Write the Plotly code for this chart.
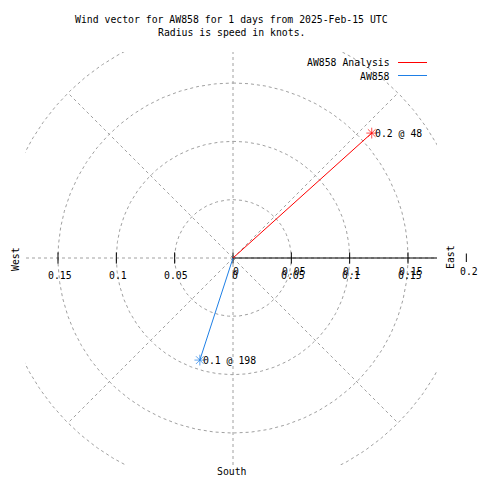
import numpy as np
import plotly.graph_objects as go

# ---- data ----
series_names = ["AW858 Analysis", "AW858"]
series_colors = ["#ff0000", "#1e7fe6"]
speeds = [0.160, 0.092]          # knots
directions = [48, 198]           # degrees clockwise from north
grid_r = [0.05, 0.1, 0.15, 0.2]
spoke_deg = [0, 45, 90, 135, 180, 225, 270, 315]
xtick_vals = [-0.15, -0.1, -0.05, 0, 0.05, 0.1, 0.15]
rtick_vals = [0, 0.05, 0.1, 0.15, 0.2]
title_lines = ["Wind vector for AW858 for 1 days from 2025-Feb-15 UTC",
               "Radius is speed in knots."]

FONT = "DejaVu Sans Mono"
FS = 9.8
GRID = "#a0a0a0"

W = H = 480
def px(x):
    return x / W
def py(y):
    return 1 - y / H

scale = 1166.7
cx, cy = 233, 258
left, right, top, bottom = 25, 437, 52, 465
xmin, xmax = (left - cx) / scale, (right - cx) / scale
ymin, ymax = (cy - bottom) / scale, (cy - top) / scale

def inside(v):
    return xmin <= v <= xmax

fig = go.Figure()

# grid circles and spokes
gx, gy = [], []
th = np.linspace(0, 2 * np.pi, 721)
for r in grid_r:
    gx += list(r * np.sin(th)) + [None]
    gy += list(r * np.cos(th)) + [None]
for d in spoke_deg:
    a = np.radians(d)
    gx += [0, max(grid_r) * np.sin(a), None]
    gy += [0, max(grid_r) * np.cos(a), None]
fig.add_trace(go.Scatter(x=gx, y=gy, mode="lines", hoverinfo="skip",
                         line=dict(color=GRID, width=1, dash="3px,3px")))

# solid axis on the east side
fig.add_trace(go.Scatter(x=[0, max(grid_r)], y=[0, 0], mode="lines",
                         line=dict(color="black", width=1), hoverinfo="skip"))

# tick marks inside the plot area
tick_x = sorted(set(xtick_vals + rtick_vals))
tick_in = [v for v in tick_x if inside(v)]
fig.add_trace(go.Scatter(x=tick_in, y=[0] * len(tick_in), mode="markers",
                         cliponaxis=False, hoverinfo="skip",
                         marker=dict(symbol="line-ns-open", size=8, color="black",
                                     line=dict(color="black", width=1))))

# wind vectors
for name, col, s, d in zip(series_names, series_colors, speeds, directions):
    a = np.radians(d)
    x1, y1 = s * np.sin(a), s * np.cos(a)
    fig.add_trace(go.Scatter(x=[0, x1], y=[0, y1], mode="lines+markers",
                             name=name, cliponaxis=False,
                             line=dict(color=col, width=1),
                             marker=dict(symbol="asterisk-open", size=[0, 9], color=col,
                                         line=dict(color=col, width=1))))

annotations = []
shapes = []
for i, (s, d) in enumerate(zip(speeds, directions)):
    a = np.radians(d)
    annotations.append(dict(x=s * np.sin(a), y=s * np.cos(a), xref="x", yref="y",
                            text=f"{s:.1f} @ {d}", showarrow=False,
                            xanchor="left", yanchor="middle", xshift=1, yshift=0,
                            font=dict(family=FONT, size=FS, color="black")))

# tick labels (x tics and r tics overlap, as in the original)
def tick_label(v, text, xshift, yshift):
    if inside(v):
        return dict(x=v, y=0, xref="x", yref="y", text=text,
                    showarrow=False, xanchor="center", yanchor="middle",
                    xshift=xshift, yshift=yshift,
                    font=dict(family=FONT, size=FS, color="black"))
    # outside the plot area: place in paper coordinates
    return dict(x=px(cx + v * scale + xshift), y=py(cy - yshift), xref="paper", yref="paper",
                text=text, showarrow=False, xanchor="center", yanchor="middle",
                font=dict(family=FONT, size=FS, color="black"))

for v in xtick_vals:
    annotations.append(tick_label(v, f"{v:g}".replace("-", ""), 1.5, -17))
for v in rtick_vals:
    annotations.append(tick_label(v, f"{v:g}", 2.5, -13))
    if not inside(v):
        xx = cx + v * scale
        shapes.append(dict(type="line", xref="paper", yref="paper",
                           x0=px(xx), x1=px(xx), y0=py(cy - 4.5), y1=py(cy + 4),
                           line=dict(color="black", width=1)))

# compass labels
annotations.append(dict(x=px(450), y=py(257), xref="paper", yref="paper", text="East",
                        textangle=-90, showarrow=False, xanchor="center", yanchor="middle",
                        font=dict(family=FONT, size=FS, color="black")))
annotations.append(dict(x=px(15), y=py(259), xref="paper", yref="paper", text="West",
                        textangle=-90, showarrow=False, xanchor="center", yanchor="middle",
                        font=dict(family=FONT, size=FS, color="black")))
annotations.append(dict(x=px(232), y=py(471), xref="paper", yref="paper", text="South",
                        showarrow=False, xanchor="center", yanchor="middle",
                        font=dict(family=FONT, size=FS, color="black")))

# title
for i, t in enumerate(title_lines):
    annotations.append(dict(x=px(231.5), y=py(20 + 13 * i), xref="paper", yref="paper",
                            text=t, showarrow=False, xanchor="center", yanchor="middle",
                            font=dict(family=FONT, size=FS, color="black")))

# legend (text left of the sample line)
for i, (name, col) in enumerate(zip(series_names, series_colors)):
    yy = 62.5 + 13 * i
    annotations.append(dict(x=px(391.5), y=py(yy + 0.5), xref="paper", yref="paper",
                            text=name, showarrow=False, xanchor="right", yanchor="middle",
                            font=dict(family=FONT, size=FS, color="black")))
    shapes.append(dict(type="line", xref="paper", yref="paper",
                       x0=px(398), x1=px(427), y0=py(yy), y1=py(yy),
                       line=dict(color=col, width=1)))

fig.update_layout(
    width=W, height=H,
    margin=dict(l=0, r=0, t=0, b=0),
    paper_bgcolor="white", plot_bgcolor="white",
    showlegend=False,
    hovermode=False,
    xaxis=dict(domain=[px(left), px(right)], range=[xmin, xmax],
               visible=False, showgrid=False, zeroline=False),
    yaxis=dict(domain=[py(bottom), py(top)], range=[ymin, ymax],
               visible=False, showgrid=False, zeroline=False),
    annotations=annotations,
    shapes=shapes,
)

fig.write_html("out.html", config={"displayModeBar": False},
               post_script="document.body.style.margin='0';document.body.style.overflow='hidden';")
